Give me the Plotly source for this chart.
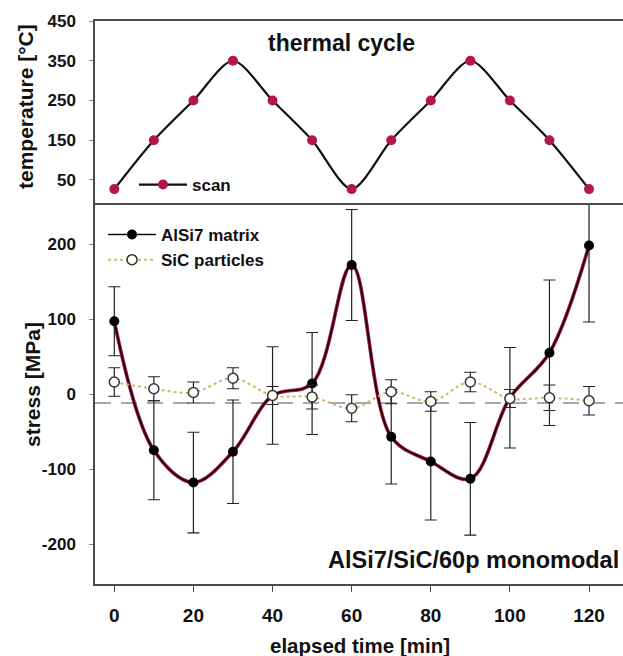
import plotly.graph_objects as go

# ---------------- data ----------------
time_min = [0, 10, 20, 30, 40, 50, 60, 70, 80, 90, 100, 110, 120]
temperature_c = [27, 150, 250, 350, 250, 150, 27, 150, 250, 350, 250, 150, 27]

alsi7_stress = [97, -75, -118, -77, -2, 14, 172, -57, -90, -113, -5, 55, 198]
alsi7_err = [46, 66, 67, 69, 65, 68, 74, 63, 78, 75, 67, 97, 102]

sic_stress = [16, 7, 2, 21, -2, -4, -19, 3, -10, 16, -6, -5, -9]
sic_err = [19, 16, 14, 14, 12, 16, 18, 16, 13, 13, 12, 17, 19]

ref_stress = -12  # dashed reference level

x_ticks = [0, 20, 40, 60, 80, 100, 120]
temp_ticks = [50, 150, 250, 350, 450]
stress_ticks = [-200, -100, 0, 100, 200]
stress_tick_labels = ["-200", "-100", "0", "100", "200"]

# ---------------- layout geometry ----------------
W, H = 623, 656
ML, MR, MT, MB = 95, 0, 21, 72
plot_h = H - MT - MB
plot_w = W - ML - MR
split = (584 - 203) / plot_h  # paper fraction of panel boundary

FONT = "Liberation Sans"
AX_COLOR = "#4a4a4a"

fig = go.Figure()

# upper panel: thermal cycle
fig.add_trace(go.Scatter(
    x=time_min, y=temperature_c, name="scan",
    mode="lines+markers",
    line=dict(color="#111111", width=2.2, shape="spline", smoothing=0.8),
    marker=dict(color="#b3174a", size=10),
    xaxis="x2", yaxis="y2", legend="legend2",
))

# lower panel: AlSi7 matrix (crimson under-stroke + dark core)
fig.add_trace(go.Scatter(
    x=time_min, y=alsi7_stress, mode="lines",
    line=dict(color="#a0153e", width=3.6, shape="spline"),
    showlegend=False, hoverinfo="skip",
))
fig.add_trace(go.Scatter(
    x=time_min, y=alsi7_stress, name="AlSi7 matrix",
    mode="lines+markers",
    line=dict(color="#1a0508", width=1.6, shape="spline"),
    marker=dict(color="#000000", size=10),
    error_y=dict(type="data", array=alsi7_err, visible=True,
                 color="#222222", thickness=1.2, width=6),
))

# SiC particles
fig.add_trace(go.Scatter(
    x=time_min, y=sic_stress, name="SiC particles",
    mode="lines+markers",
    line=dict(color="#cdb968", width=2, dash="dot", shape="spline"),
    marker=dict(color="white", size=10, line=dict(color="#333333", width=1.5)),
    error_y=dict(type="data", array=sic_err, visible=True,
                 color="#222222", thickness=1.2, width=6),
))

x_lo = (ML - 114.3) / 3.956
x_hi = (W - 114.3) / 3.956

fig.update_layout(
    width=W, height=H,
    margin=dict(l=ML, r=MR, t=MT, b=MB),
    paper_bgcolor="white", plot_bgcolor="white",
    font=dict(family=FONT, color="#111111"),
    showlegend=True,
    xaxis=dict(
        domain=[0, 1], range=[x_lo, x_hi], anchor="y",
        tickvals=x_ticks, ticks="outside", ticklen=6, tickwidth=1.2,
        tickcolor=AX_COLOR, ticklabelstandoff=7,
        tickfont=dict(size=19, family=FONT, weight="bold", color="#111"),
        showline=True, linecolor=AX_COLOR, linewidth=1.5,
        showgrid=False, zeroline=False,
    ),
    yaxis=dict(
        domain=[0, split], range=[-253.3, 254.7], anchor="x",
        tickvals=stress_ticks, ticktext=stress_tick_labels,
        ticks="outside", ticklen=4, tickwidth=1,
        tickcolor="#888", ticklabelstandoff=10,
        tickfont=dict(size=17, family=FONT, weight="bold", color="#111"),
        showline=True, linecolor=AX_COLOR, linewidth=1.5,
        showgrid=False, zeroline=False,
    ),
    xaxis2=dict(
        domain=[0, 1], range=[x_lo, x_hi], anchor="y2",
        showticklabels=False, ticks="",
        showline=True, mirror=True, linecolor=AX_COLOR, linewidth=1.5,
        showgrid=False, zeroline=False,
    ),
    yaxis2=dict(
        domain=[split, 1], range=[-8, 450], anchor="x2",
        tickvals=temp_ticks, ticks="outside", ticklen=4, tickwidth=1,
        tickcolor="#888", ticklabelstandoff=10,
        tickfont=dict(size=17, family=FONT, weight="bold", color="#111"),
        showline=True, linecolor=AX_COLOR, linewidth=1.5,
        showgrid=False, zeroline=False,
    ),
    legend=dict(
        x=(103 - ML) / plot_w, y=(584 - 217) / plot_h,
        xanchor="left", yanchor="top",
        bgcolor="rgba(0,0,0,0)", borderwidth=0,
        font=dict(size=17, family=FONT, weight="bold", color="#111"),
        tracegroupgap=0, itemwidth=48,
    ),
    legend2=dict(
        x=(134 - ML) / plot_w, y=(584 - 185) / plot_h,
        xanchor="left", yanchor="middle",
        bgcolor="rgba(0,0,0,0)", borderwidth=0,
        font=dict(size=17, family=FONT, weight="bold", color="#111"),
        itemwidth=48,
    ),
    shapes=[dict(
        type="line", xref="x domain", yref="y",
        x0=0, x1=1, y0=ref_stress, y1=ref_stress,
        line=dict(color="#8a8a8a", width=1.5, dash="16px,10px"),
        layer="below",
    )],
    annotations=[
        dict(text="thermal cycle", xref="paper", yref="paper",
             x=(341 - ML) / plot_w, y=(584 - 43) / plot_h,
             showarrow=False, xanchor="center", yanchor="middle",
             font=dict(size=23, family=FONT, weight="bold", color="#111")),
        dict(text="AlSi7/SiC/60p monomodal", xref="paper", yref="paper",
             x=(621 - ML) / plot_w, y=(584 - 560) / plot_h,
             showarrow=False, xanchor="right", yanchor="middle",
             font=dict(size=23.5, family=FONT, weight="bold", color="#111")),
        dict(text="elapsed time [min]", xref="paper", yref="paper",
             x=(360 - ML) / plot_w, y=(584 - 645) / plot_h,
             showarrow=False, xanchor="center", yanchor="middle",
             font=dict(size=20.5, family=FONT, weight="bold", color="#111")),
        dict(text="temperature [°C]", xref="paper", yref="paper",
             x=(26 - ML) / plot_w, y=(584 - 107) / plot_h,
             showarrow=False, xanchor="center", yanchor="middle", textangle=-90,
             font=dict(size=21, family=FONT, weight="bold", color="#111")),
        dict(text="stress [MPa]", xref="paper", yref="paper",
             x=(32 - ML) / plot_w, y=(584 - 385) / plot_h,
             showarrow=False, xanchor="center", yanchor="middle", textangle=-90,
             font=dict(size=21, family=FONT, weight="bold", color="#111")),
    ],
)

fig.write_html("out.html")
